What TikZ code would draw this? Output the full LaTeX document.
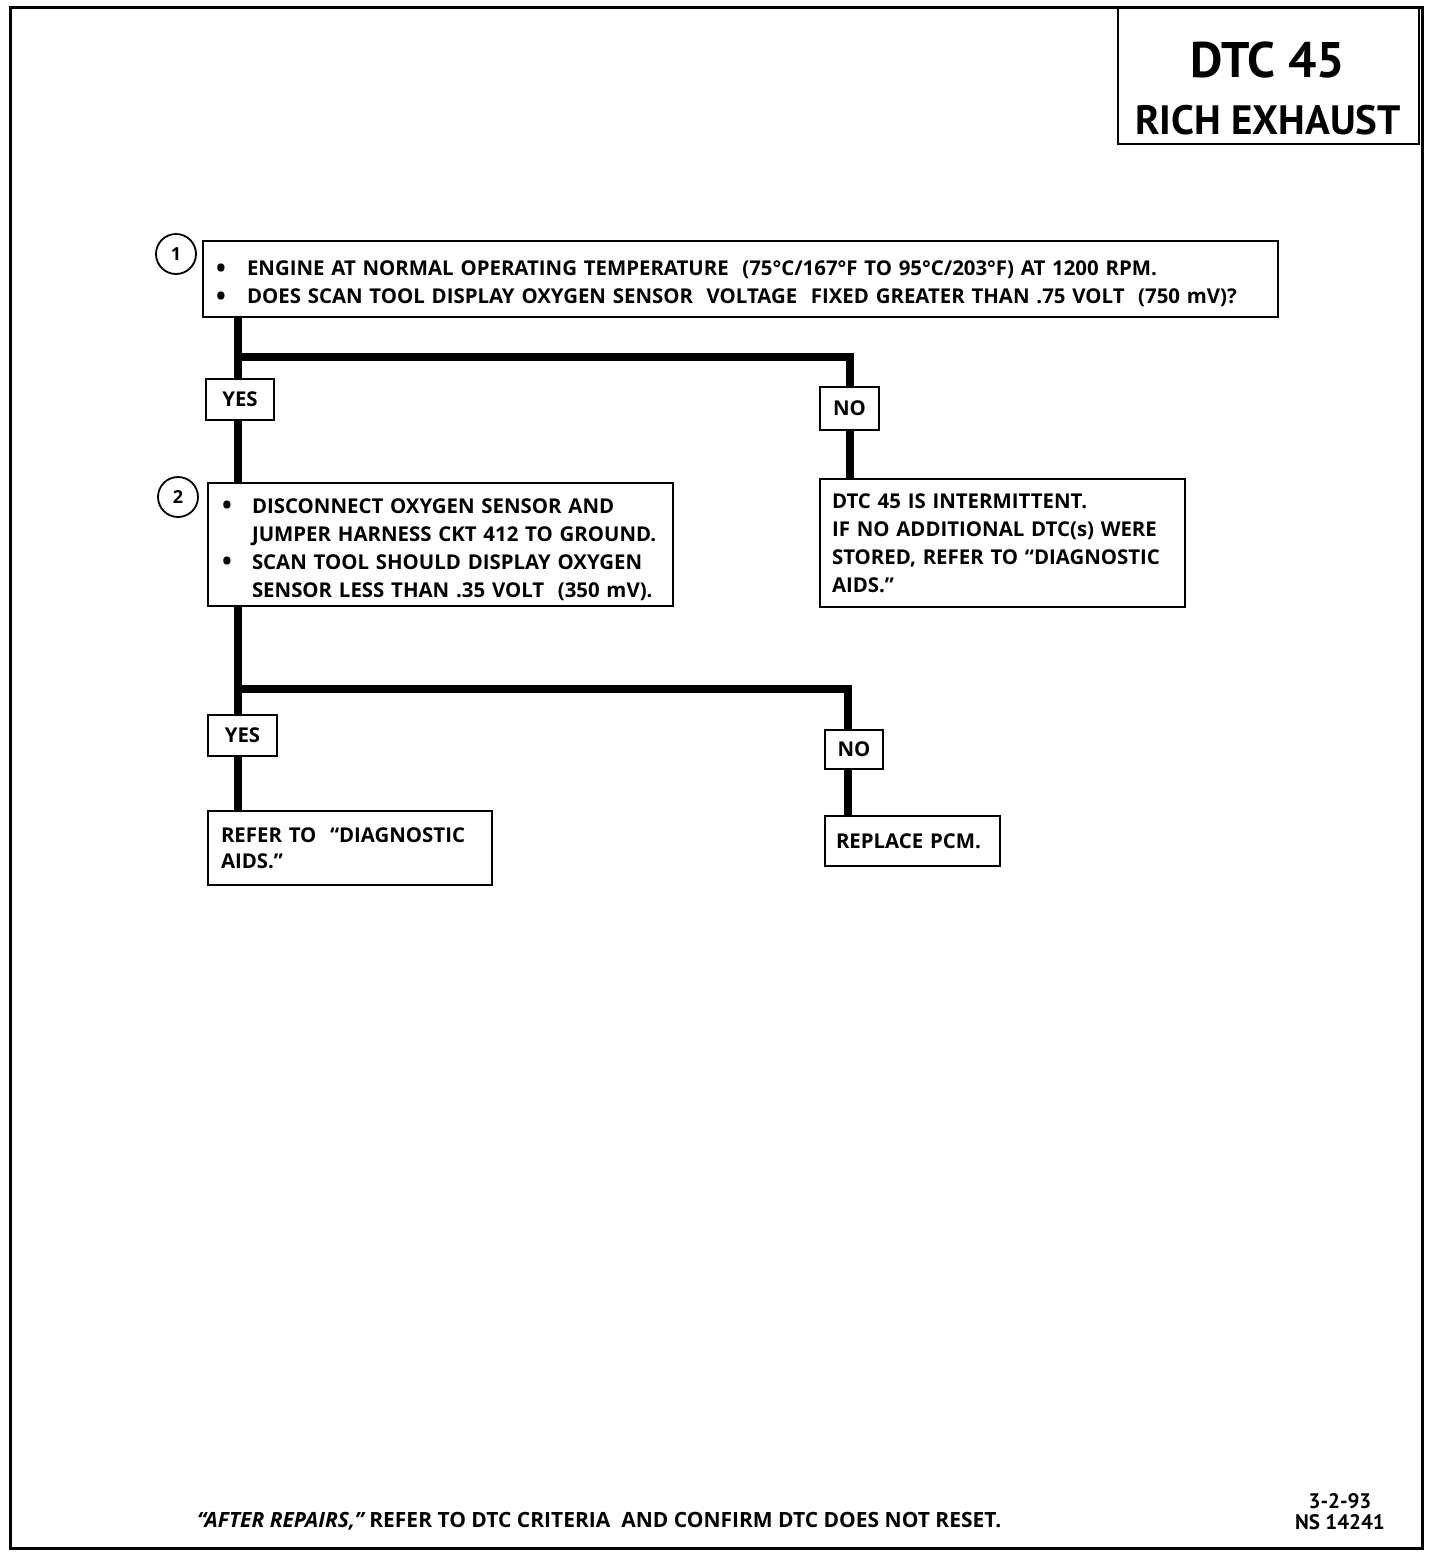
\documentclass[tikz,border=0pt]{standalone}
\usepackage{fontspec}
\setmainfont{Open Sans}
\newfontfamily\ptsans{PT Sans}
\usetikzlibrary{backgrounds}
\newcommand{\dn}{\rule{0pt}{12.5pt}}
\newcommand{\bul}[1]{\makebox[#1][l]{\raisebox{-0.6pt}{\fontsize{13pt}{0pt}\selectfont•}}}
\begin{document}
\begin{tikzpicture}[x=0.5pt,y=-0.5pt,
  font=\bfseries\fontsize{10.2pt}{14pt}\selectfont,
  box/.style={draw, line width=1pt, fill=white, align=left, anchor=north west, inner ysep=0pt},
  lbl/.style={draw, line width=1pt, fill=white, inner sep=0pt, anchor=north west},
  num/.style={draw, circle, line width=0.9pt, fill=white, minimum size=20pt, inner sep=0pt, font=\bfseries\fontsize{9pt}{10pt}\selectfont},
  conn/.style={line width=4pt, line join=miter, line cap=rect}]
\useasboundingbox (0,0) rectangle (1440,1558);
\draw[line width=1.5pt] (10,7) rectangle (1422,1548);
% title
\node[draw, line width=1pt, minimum width=150.5pt, minimum height=68pt, anchor=north west, inner sep=0pt] (title) at (1117,7) {};
\node[font=\ptsans\bfseries\fontsize{25pt}{28pt}\selectfont] (t1) at (1268,60) {DTC 45};
\node[font=\ptsans\bfseries\fontsize{20.5pt}{24pt}\selectfont] (t2) at (1268,120) {RICH EXHAUST};
% step 1
\node[box, inner xsep=6.5pt, text width=524.5pt, minimum height=38pt] (b1) at (202,240)
 {\dn\bul{15.5pt}ENGINE AT NORMAL OPERATING TEMPERATURE\ \ (75°C/167°F TO 95°C/203°F) AT 1200 RPM.\\
  \bul{15.5pt}DOES SCAN TOOL DISPLAY OXYGEN SENSOR\ \ VOLTAGE\ \ FIXED GREATER THAN .75 VOLT\ \ (750 mV)?};
\node[num] (n1) at (176,254) {1};
\node[lbl, minimum width=34pt, minimum height=20.5pt] (yes1) at (205,378) {YES};
\node[lbl, minimum width=29.5pt, minimum height=21.5pt] (no1) at (819,386) {NO};
\node[box, inner xsep=7pt, text width=218.5pt, minimum height=61.5pt] (b2) at (207,482)
 {\dn\bul{15pt}DISCONNECT OXYGEN SENSOR AND\\
  \hspace*{15pt}JUMPER HARNESS CKT 412 TO GROUND.\\
  \bul{15pt}SCAN TOOL SHOULD DISPLAY OXYGEN\\
  \hspace*{15pt}SENSOR LESS THAN .35 VOLT\ \ (350 mV).};
\node[num] (n2) at (178,497) {2};
\node[box, inner xsep=6pt, text width=170.5pt, minimum height=64pt] (r1) at (819,478)
 {DTC 45 IS INTERMITTENT.\\IF NO ADDITIONAL DTC(s) WERE\\STORED, REFER TO “DIAGNOSTIC\\AIDS.”};
\node[lbl, minimum width=34.5pt, minimum height=20.5pt] (yes2) at (207,714) {YES};
\node[lbl, minimum width=29pt, minimum height=19.5pt] (no2) at (824,729) {NO};
\node[box, inner xsep=6.5pt, text width=129pt, minimum height=37pt, font=\bfseries\fontsize{10.2pt}{13pt}\selectfont] (r2) at (207,810)
 {REFER TO\ \ “DIAGNOSTIC\\AIDS.”};
\node[box, inner xsep=5.5pt, text width=76.5pt, minimum height=25pt] (r3) at (824,815)
 {REPLACE PCM.};
\coordinate (j1) at (238,357);
\coordinate (j2) at (238,689);
\coordinate (c2n) at ([xshift=-3pt]no2.north);
\coordinate (c2s) at ([xshift=-3pt]no2.south);
\begin{scope}[on background layer]
 \draw[conn] (b1.south -| j1) -- (yes1.north -| j1);
 \draw[conn] (yes1.south -| j1) -- (b2.north -| j1);
 \draw[conn] (j1) -| (no1.north);
 \draw[conn] (no1.south) -- (r1.north -| no1.south);
 \draw[conn] (b2.south -| j2) -- (yes2.north -| j2);
 \draw[conn] (yes2.south -| j2) -- (r2.north -| j2);
 \draw[conn] (j2) -| (c2n);
 \draw[conn] (c2s) -- (r3.north -| c2s);
\end{scope}
% footer
\node[anchor=west, font=\bfseries\fontsize{10.5pt}{12pt}\selectfont] (foot) at (190,1521) {{\itshape “AFTER REPAIRS,”} REFER TO DTC CRITERIA\ \ AND CONFIRM DTC DOES NOT RESET.};
\node[align=center, font=\ptsans\bfseries\fontsize{10.5pt}{10.5pt}\selectfont] (code) at (1340,1512) {3-2-93\\NS 14241};
\end{tikzpicture}
\end{document}
